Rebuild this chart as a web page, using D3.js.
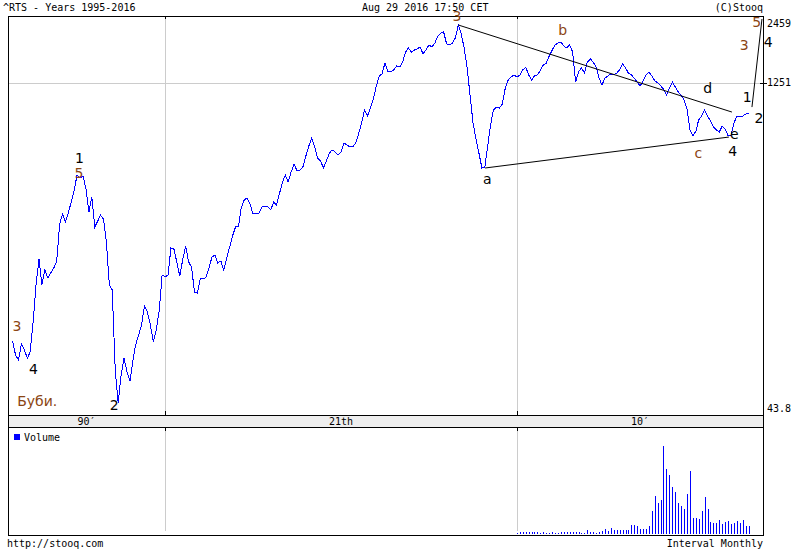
<!DOCTYPE html>
<html><head><meta charset="utf-8">
<script src="https://cdn.jsdelivr.net/npm/d3@7"></script>
<style>
body{margin:0;background:#fff;}
svg{display:block;}
.mono{font-family:"DejaVu Sans Mono",monospace;font-size:10px;fill:#000;}
.wave{font-family:"DejaVu Sans",sans-serif;font-size:14px;}
</style></head><body>
<svg id="c" width="800" height="550"></svg>
<script>
// ---- DATA ----
const title = "^RTS - Years 1995-2016";
const stamp = "Aug 29 2016 17:50 CET";
const copyright = "(C)Stooq";
const footerLeft = "http://stooq.com";
const footerRight = "Interval Monthly";
const seriesStart = [1995, 9];   // first monthly close: Sep 1995
const closes = [
 91.0, 78.9, 75.0, 88.2, 83.0, 76.5, 81.3, 110.2, 160.6, 208.9, 160.6, 186.9,
 172.3, 181.3, 190.8, 202.7, 298.0, 329.9, 304.2, 333.3, 372.6, 420.9, 490.1, 475.4,
 485.2, 425.3, 336.7, 392.1, 289.1, 307.3, 326.6, 313.6, 248.3, 160.6, 152.6, 67.8,
 48.5, 64.5, 76.5, 66.4, 60.6, 75.0, 87.4, 96.7, 106.9, 129.8, 122.1, 106.9,
 90.1, 101.7, 124.6, 177.7, 174.1, 177.7, 233.7, 231.3, 202.7, 175.9, 206.9, 238.4,
 202.7, 192.7, 149.5, 148.0, 172.3, 170.6, 174.1, 190.8, 213.2, 217.6, 200.7, 204.8,
 186.9, 211.1, 236.0, 264.0, 289.1, 292.1, 350.6, 380.2, 388.1, 365.1, 329.9, 329.9,
 333.3, 354.2, 354.2, 354.2, 343.6, 372.6, 361.4, 404.2, 451.9, 490.1, 456.5, 505.2,
 547.9, 510.4, 515.6, 531.5, 594.2, 657.8, 713.3, 651.1, 582.3, 564.8, 526.2, 564.8,
 612.6, 631.5, 618.8, 600.3, 618.8, 678.0, 664.5, 651.1, 651.1, 678.0, 742.7, 830.3,
 947.5, 891.6, 966.4, 1059.8, 1209.2, 1338.1, 1365.4, 1525.8, 1393.4, 1393.4, 1422, 1480.2,
 1465.2, 1541.4, 1707.0, 1777.8, 1707.0, 1742, 1759.9, 1795.9, 1672.7, 1742, 1832.8, 1795.9,
 1870.2, 2008.1, 2070.0, 2091.1, 1851.3, 1832.8, 1870.2, 1967.8, 2244.4, 2049.1, 1777.8, 1450.5,
 1092.5, 830.3, 706.1, 612.6, 526.2, 531.5, 651.1, 813.7, 947.5, 976.2, 966.4, 1006.3,
 1184.9, 1285, 1324.6, 1351.8, 1324.6, 1351.8, 1422, 1465.2, 1351.8, 1285, 1338.1, 1351.8,
 1422, 1495.3, 1525.8, 1639.2, 1742, 1832.8, 1870.2, 1889.2, 1814.2, 1777.8, 1832.8, 1707.0,
 1259.2, 1393.4, 1450.5, 1379.3, 1541.4, 1590.1, 1541.4, 1465.2, 1311.2, 1221.5, 1311.2, 1338.1,
 1365.4, 1351.8, 1379.3, 1422, 1510.4, 1450.5, 1379.3, 1351.8, 1311.2, 1259.2, 1209.2, 1272.0,
 1351.8, 1393.4, 1338.1, 1272.0, 1246.5, 1209.2, 1173.0, 1103.6, 1184.9, 1259.2, 1197.0, 1137.7,
 1103.6, 1048, 956.6, 773.5, 727.9, 765.7, 856, 891.6, 947.5, 891.6, 847.4, 797.4,
 773.5, 758.0, 805.5, 781.4, 727.9, 735.3, 830.3, 891.6, 882.6, 891.6, 909.8, 919.1
];
const volumeStart = [2010, 1];   // volume bars begin Jan 2010 (relative units)
const volumes = [
 1.5, 1.9, 2.3, 2.3, 2.3, 2.3, 2.3, 1.9, 1.1, 1.9, 1.5, 1.1,
 1.9, 1.5, 1.5, 1.9, 1.9, 1.9, 1.9, 1.9, 1.9, 1.9, 1.5, 1.5,
 4.5, 2.6, 2.3, 1.5, 2.6, 3.4, 5.7, 3.8, 6.4, 4.5, 4.5, 4.5,
 4.5, 4.5, 4.5, 10.2, 10.2, 9.1, 6.0, 6.0, 6.0, 9.1, 26.4, 43.0,
 35.5, 38.5, 100, 73.2, 66.8, 53.2, 47.9, 35.5, 31.7, 28.3, 45.7, 71.7,
 18.1, 18.1, 17.0, 26.0, 41.9, 28.3, 13.6, 12.5, 12.5, 15.8, 11.3, 13.6,
 14.7, 11.3, 12.5, 14.7, 12.5, 15.8, 9.1, 9.1
];
const yTickValues = [43.8, 1251, 2459];
const decadeLabels = ["90\u2032", "21th", "10\u2032"];
const decadeBounds = [2000, 2010];
// Elliott-wave annotations: [text, year (fractional), value, colour key, anchor]
const waveLabels = [
 ["3", 1995.787, 100.7, "br", "middle"],
 ["4", 1996.259, 65.1, "bk", "middle"],
 ["1", 1997.565, 553.5, "bk", "middle"],
 ["5", 1997.548, 475.4, "br", "middle"],
 ["2", 1998.551, 45.2, "bk", "middle"],
 ["Буби.", 1995.795, 47.1, "br", "start"],
 ["3", 2008.295, 2337, "br", "middle"],
 ["a", 2009.156, 447.4, "bk", "middle"],
 ["b", 2011.298, 2028.6, "br", "middle"],
 ["c", 2015.151, 582.3, "br", "middle"],
 ["d", 2015.418, 1126.2, "bk", "middle"],
 ["e", 2016.173, 706.1, "bk", "middle"],
 ["4", 2016.128, 594.2, "bk", "middle"],
 ["1", 2016.543, 1027, "bk", "middle"],
 ["2", 2016.875, 830.3, "bk", "middle"],
 ["3", 2016.457, 1742, "br", "middle"],
 ["5", 2016.81, 2200, "br", "middle"],
 ["4", 2017.14, 1795.9, "bk", "middle"]
];
const trendLines = [
 [[2008.333, 2244], [2016.108, 928]],
 [[2009.091, 526], [2016.023, 720]],
 [[2016.676, 976], [2016.96, 2385]]
];

// ---- LAYOUT ----
const L = 8, R = 763, T = 16, B = 415, bandB = 427, volB = 535;
const svg = d3.select("#c");

function yd(yf){ const y = Math.floor(yf); const s = new Date(y,0,1), e = new Date(y+1,0,1); return new Date(+s + (yf-y)*(e-s)); }

const x = d3.scaleTime().domain([new Date(1995,6,15), new Date(2016,11,28)]).range([L, R]);
const y = d3.scaleLog().domain([43.8, 2459]).range([413, T]);
const yv = d3.scaleLinear().domain([0, 100]).range([534, 445.7]);

const priceData = closes.map((v,i)=>({date:new Date(seriesStart[0], seriesStart[1]-1+i, 1), value:v}));
const volData = volumes.map((v,i)=>({date:new Date(volumeStart[0], volumeStart[1]-1+i, 1), value:v}));

const px = v => Math.round(v) + 0.5;
const grid = "#cccccc";

// band
svg.append("rect").attr("x", L).attr("y", B).attr("width", R-L).attr("height", bandB-B).attr("fill", "#eeeeee");

// vertical gridlines at decade boundaries
decadeBounds.forEach(yr=>{
  const gx = px(x(new Date(yr,0,1)));
  svg.append("line").attr("x1",gx).attr("x2",gx).attr("y1",T).attr("y2",B).attr("stroke",grid);
  svg.append("line").attr("x1",gx).attr("x2",gx).attr("y1",bandB).attr("y2",volB-4).attr("stroke",grid);
  [[T,T+3],[B-4,B],[bandB,bandB+4]].forEach(([a,b])=>
    svg.append("line").attr("x1",gx).attr("x2",gx).attr("y1",a).attr("y2",b).attr("stroke","#000"));
});

// horizontal gridline(s) for inner ticks
yTickValues.forEach(v=>{
  const gy = y(v);
  if (gy > T+2 && gy < 410) {
    svg.append("line").attr("x1",L).attr("x2",R).attr("y1",px(gy)).attr("y2",px(gy)).attr("stroke",grid);
    svg.append("line").attr("x1",R-3).attr("x2",R+4).attr("y1",px(gy)).attr("y2",px(gy)).attr("stroke","#000");
  }
});

// frames
const fr = svg.append("g").attr("stroke","#000").attr("fill","none");
fr.append("line").attr("x1",L).attr("x2",R+0.5).attr("y1",T+0.5).attr("y2",T+0.5);
fr.append("line").attr("x1",L).attr("x2",R).attr("y1",B+0.5).attr("y2",B+0.5);
fr.append("line").attr("x1",L).attr("x2",R).attr("y1",bandB+0.5).attr("y2",bandB+0.5);
fr.append("line").attr("x1",L).attr("x2",R+0.5).attr("y1",volB+0.5).attr("y2",volB+0.5);
fr.append("line").attr("x1",L+0.5).attr("x2",L+0.5).attr("y1",T).attr("y2",volB+1);
fr.append("line").attr("x1",R+0.5).attr("x2",R+0.5).attr("y1",T).attr("y2",volB+1);

// decade labels centred between boundaries
const bx = [L, x(new Date(decadeBounds[0],0,1)), x(new Date(decadeBounds[1],0,1)), R];
decadeLabels.forEach((t,i)=>{
  svg.append("text").attr("class","mono").attr("x",(bx[i]+bx[i+1])/2).attr("y",425)
    .attr("text-anchor","middle").text(t);
});

// y tick labels
yTickValues.forEach(v=>{
  const gy = y(v);
  let by = gy + 3.5;
  if (gy < T + 10) by = gy + 11;
  if (gy > 405) by = gy - 1;
  svg.append("text").attr("class","mono").attr("x",R+4).attr("y",by).text(String(v));
});

// volume bars
svg.append("g").selectAll("rect").data(volData).join("rect")
  .attr("x", d=>Math.round(x(d.date))).attr("width",1)
  .attr("y", d=>Math.round(yv(d.value))).attr("height", d=>534 - Math.round(yv(d.value)))
  .attr("fill","#0000ff");

// volume legend
svg.append("rect").attr("x",14).attr("y",434).attr("width",6).attr("height",6).attr("fill","#0000ff");
svg.append("text").attr("class","mono").attr("x",24).attr("y",441).text("Volume");

// price line
const line = d3.line().x(d=>x(d.date)).y(d=>y(d.value));
svg.append("path").datum(priceData).attr("d",line).attr("fill","none")
  .attr("stroke","#0000ff").attr("stroke-width",1).attr("shape-rendering","crispEdges");

// trend lines
trendLines.forEach(seg=>{
  svg.append("line")
    .attr("x1",x(yd(seg[0][0]))).attr("y1",y(seg[0][1]))
    .attr("x2",x(yd(seg[1][0]))).attr("y2",y(seg[1][1]))
    .attr("stroke","#000").attr("stroke-width",1);
});

// wave labels
const col = {br:"#8b4513", bk:"#000000"};
waveLabels.forEach(([t,yf,v,c,a])=>{
  svg.append("text").attr("class","wave").attr("x",x(yd(yf))).attr("y",y(v))
    .attr("text-anchor",a).attr("fill",col[c]).text(t);
});

// header / footer
svg.append("text").attr("class","mono").attr("x",3).attr("y",11).text(title);
svg.append("text").attr("class","mono").attr("x",362).attr("y",11).text(stamp);
svg.append("text").attr("class","mono").attr("x",R).attr("y",11).attr("text-anchor","end").text(copyright);
svg.append("text").attr("class","mono").attr("x",7).attr("y",547).text(footerLeft);
svg.append("text").attr("class","mono").attr("x",R).attr("y",547).attr("text-anchor","end").text(footerRight);
</script>
</body></html>
